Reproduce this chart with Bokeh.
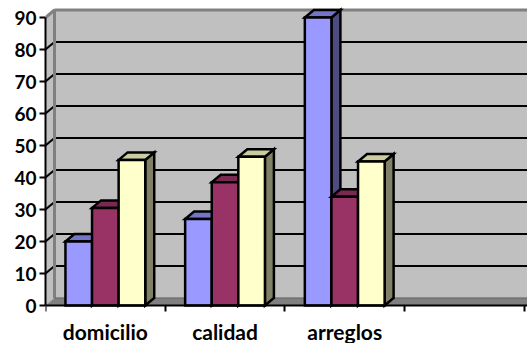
from bokeh.embed import file_html
from bokeh.models import FixedTicker, Range1d
from bokeh.plotting import figure
from bokeh.resources import INLINE

categories = ["domicilio", "calidad", "arreglos", ""]
series_blue = [20, 27, 90]
series_maroon = [30.5, 38.5, 34]
series_yellow = [45.5, 46.5, 45]
value_ticks = [0, 10, 20, 30, 40, 50, 60, 70, 80, 90]

# face colours of each series: front, top, side
palette = [
    ("#9999ff", "#7575c8", "#4c4c80"),
    ("#993366", "#7a2952", "#4c1933"),
    ("#ffffcc", "#cccca3", "#808066"),
]

BAR_WIDTH = 2 / 9
BAR_START = 1 / 6
DEPTH_X = 0.075
DEPTH_Y = 2.35
X_END = 4.027

# the frame reaches the page's bottom edge; the category axis is pinned at zero inside it
p = figure(
    width=527, height=343, output_backend="svg", toolbar_location=None,
    min_border_left=45, min_border_right=0, min_border_top=5, min_border_bottom=0,
    x_range=Range1d(0, X_END), y_range=Range1d(-11.875, 93.75),
    outline_line_color=None, background_fill_color="white", border_fill_color="white",
)
p.xgrid.visible = False
p.ygrid.visible = False

top = value_ticks[-1]
right = X_END + DEPTH_X

# 3D chart box: left wall, back wall and floor
p.patch([0, DEPTH_X, DEPTH_X, 0], [0, DEPTH_Y, top + DEPTH_Y, top],
        fill_color="#c0c0c0", line_color=None)
p.patch([DEPTH_X, right, right, DEPTH_X], [DEPTH_Y, DEPTH_Y, top + DEPTH_Y, top + DEPTH_Y],
        fill_color="#c0c0c0", line_color=None)
p.patch([0, DEPTH_X, right, right], [0, DEPTH_Y, DEPTH_Y, 0],
        fill_color="#808080", line_color=None)

# gridlines run across the back wall and slant down the left wall
grid = value_ticks[1:-1]
p.multi_line([[DEPTH_X, right] for _ in grid], [[v + DEPTH_Y, v + DEPTH_Y] for v in grid],
             line_color="black", line_width=2)
p.multi_line([[0, DEPTH_X] for _ in grid], [[v, v + DEPTH_Y] for v in grid],
             line_color="black", line_width=2)

# grey edges of the box
p.line([0, DEPTH_X, DEPTH_X], [top, top + DEPTH_Y, DEPTH_Y], line_color="#808080", line_width=3)
p.line([DEPTH_X, right], [top + DEPTH_Y, top + DEPTH_Y], line_color="#808080", line_width=3)
p.line([0, DEPTH_X], [0, DEPTH_Y], line_color="#a0a0a0", line_width=1)
p.line([DEPTH_X, right], [DEPTH_Y, DEPTH_Y], line_color="#606060", line_width=1)

# clustered 3D bars, drawn left to right so that later bars overlap earlier ones
all_series = [series_blue, series_maroon, series_yellow]
for c in range(len(series_blue)):
    for s, values in enumerate(all_series):
        v = values[c]
        x0 = c + BAR_START + s * BAR_WIDTH
        x1 = x0 + BAR_WIDTH
        front, upper, side = palette[s]
        p.patch([x1, x1 + DEPTH_X, x1 + DEPTH_X, x1], [0, DEPTH_Y, v + DEPTH_Y, v],
                fill_color=side, line_color="black", line_width=2.5, line_join="miter")
        p.patch([x0, x1, x1 + DEPTH_X, x0 + DEPTH_X], [v, v, v + DEPTH_Y, v + DEPTH_Y],
                fill_color=upper, line_color="black", line_width=2.5, line_join="miter")
        p.patch([x0, x1, x1, x0], [0, 0, v, v],
                fill_color=front, line_color="black", line_width=2.5, line_join="miter")

yaxis = p.yaxis[0]
yaxis.ticker = FixedTicker(ticks=value_ticks)
yaxis.bounds = (0, top)
yaxis.axis_line_color = "black"
yaxis.axis_line_width = 2
yaxis.major_tick_line_color = "black"
yaxis.major_tick_line_width = 2
yaxis.major_tick_out = 6
yaxis.major_tick_in = 0
yaxis.minor_tick_line_color = None
yaxis.major_label_standoff = 3
yaxis.major_label_text_font = "Lato"
yaxis.major_label_text_font_style = "bold"
yaxis.major_label_text_font_size = "19px"
yaxis.major_label_text_color = "black"

# category labels sit mid-slot while the tick marks sit on the slot boundaries
xaxis = p.xaxis[0]
centres = [i + 0.5 for i in range(len(categories))]
xaxis.fixed_location = 0
xaxis.ticker = FixedTicker(ticks=centres, minor_ticks=list(range(len(categories) + 1)))
xaxis.major_label_overrides = {c: name for c, name in zip(centres, categories)}
xaxis.axis_line_color = "black"
xaxis.axis_line_width = 2
xaxis.major_tick_line_color = None
xaxis.minor_tick_line_color = "black"
xaxis.minor_tick_line_width = 2
xaxis.minor_tick_out = 6
xaxis.minor_tick_in = 0
xaxis.major_label_standoff = 7
xaxis.major_label_text_font = "Lato"
xaxis.major_label_text_font_style = "bold"
xaxis.major_label_text_font_size = "21px"
xaxis.major_label_text_color = "black"

open("out.html", "w").write(file_html(p, INLINE))
